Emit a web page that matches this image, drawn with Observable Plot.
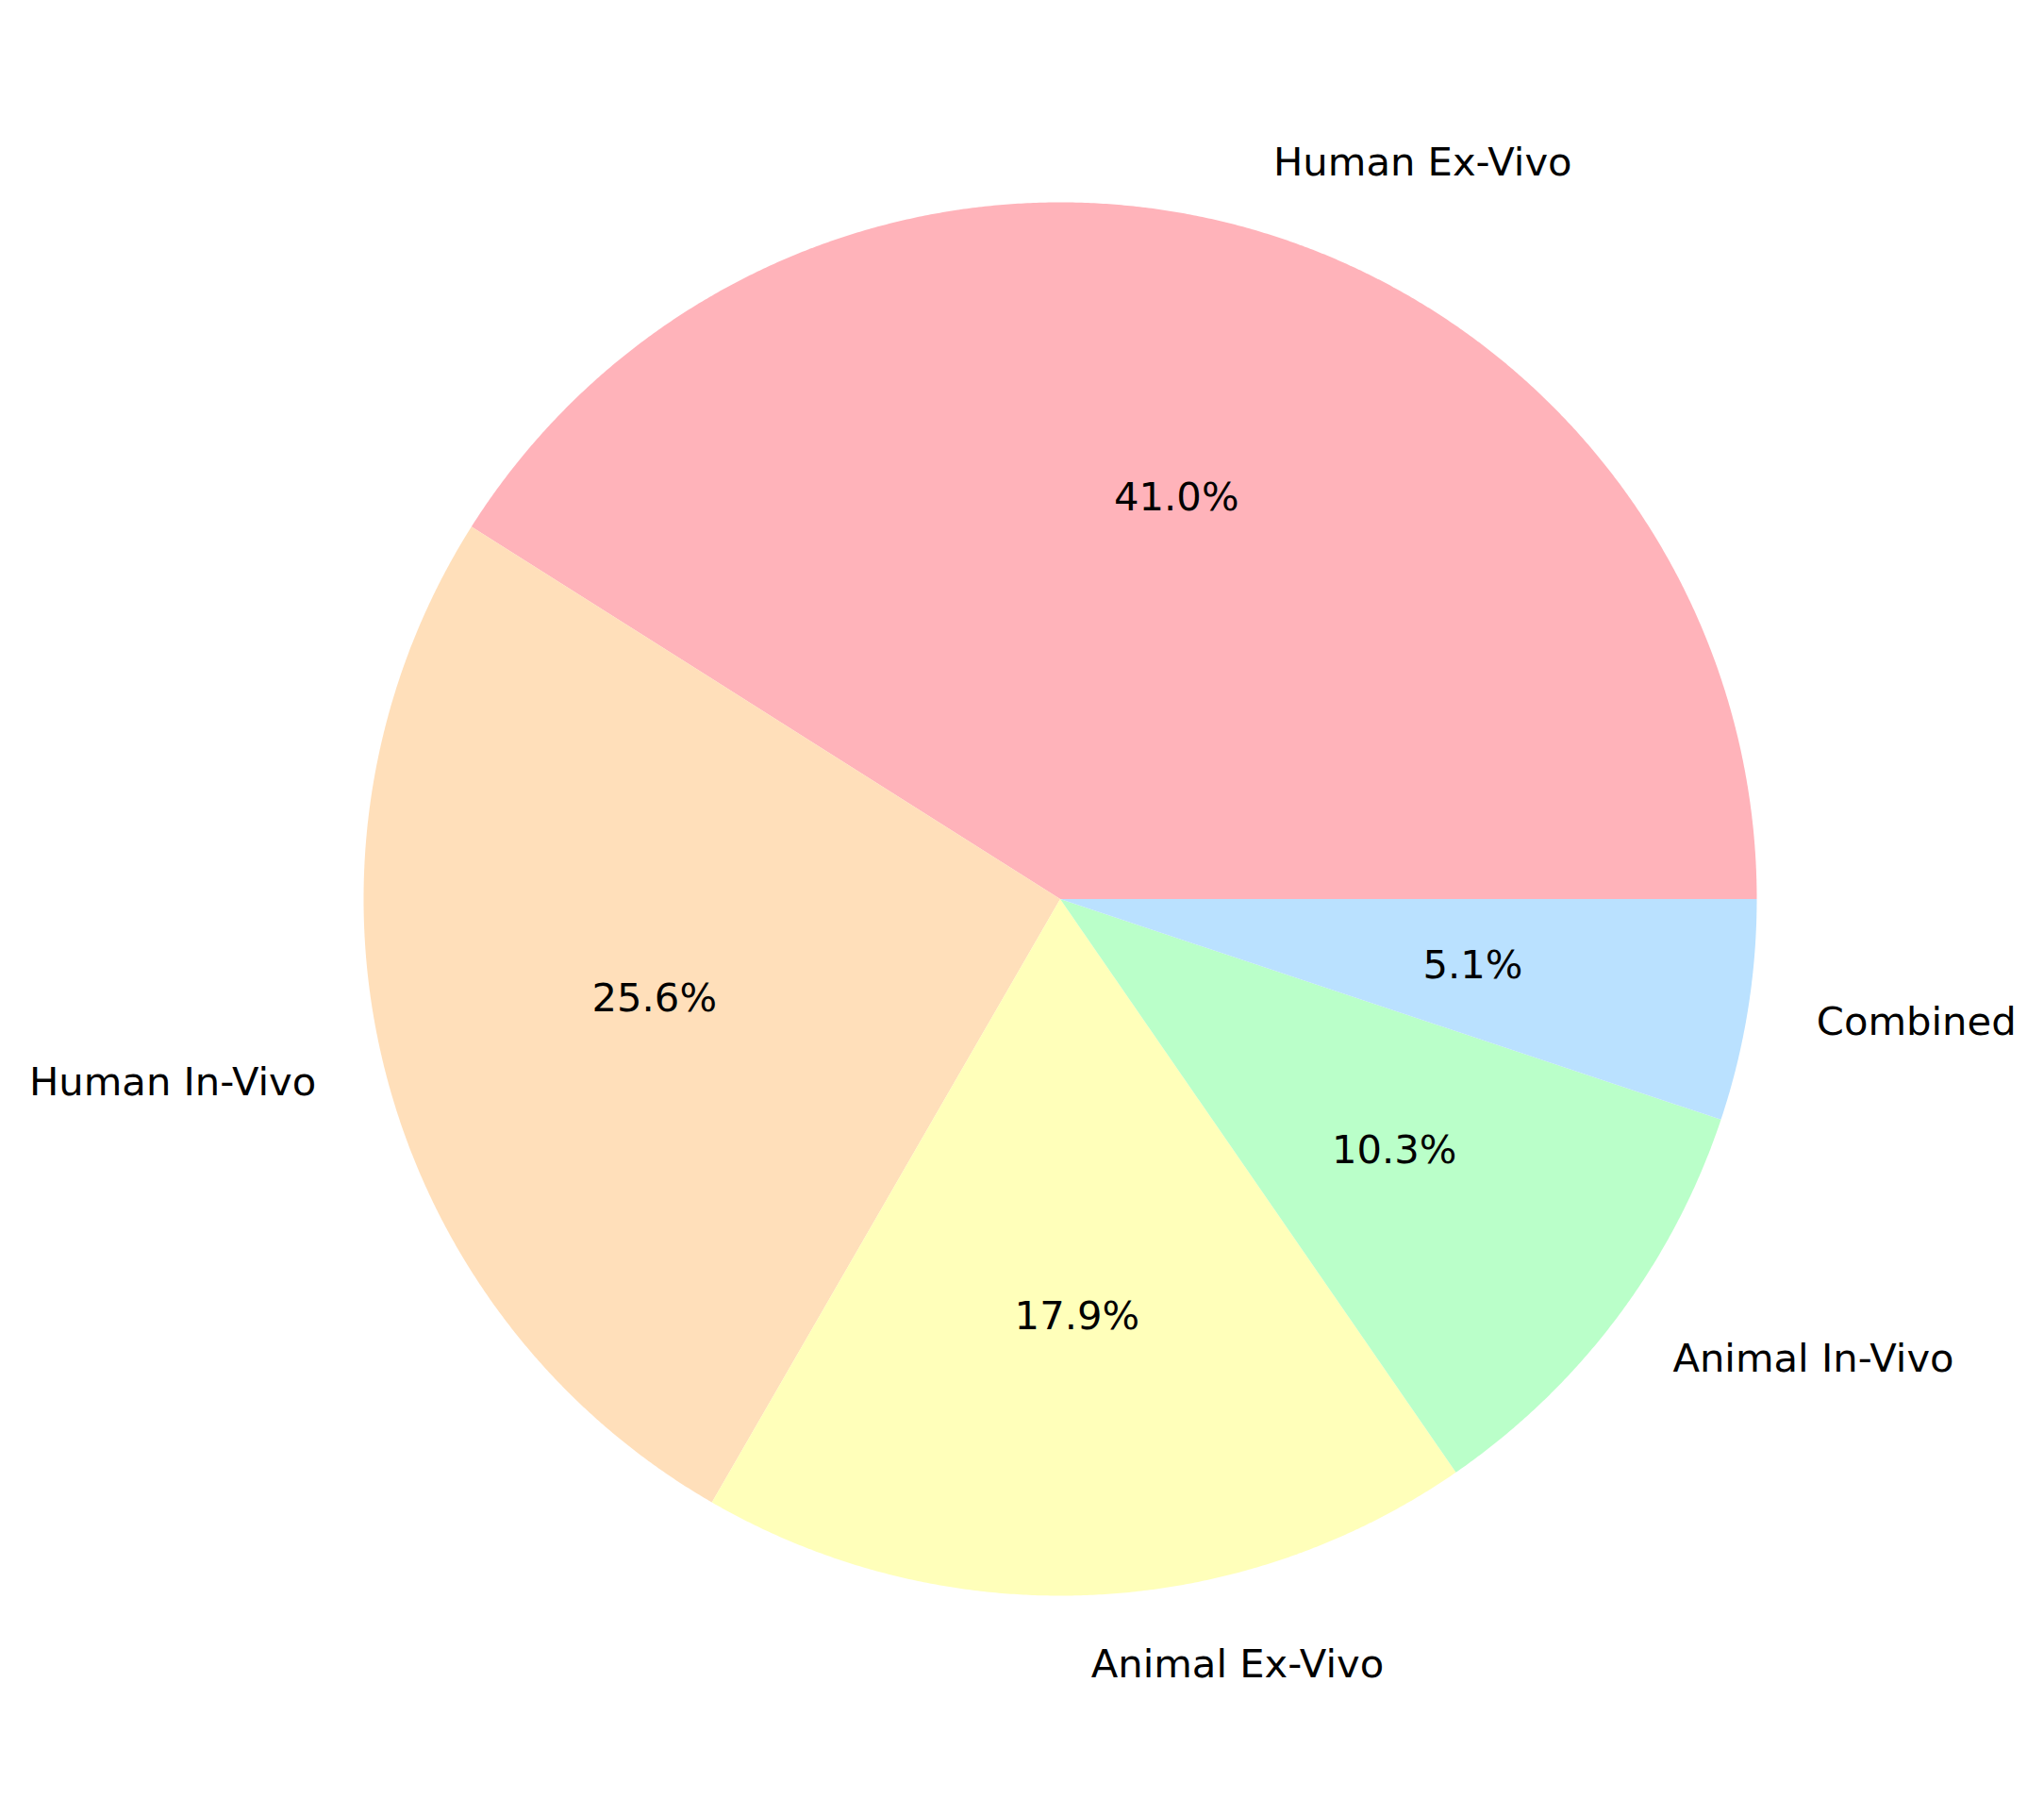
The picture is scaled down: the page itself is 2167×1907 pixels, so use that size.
<!DOCTYPE html>
<html>
<head>
<meta charset="utf-8">
<script src="https://cdn.jsdelivr.net/npm/d3@7"></script>
<script src="https://cdn.jsdelivr.net/npm/@observablehq/plot@0.6"></script>
<style>
  html, body { margin: 0; padding: 0; background: #fff; }
  svg { display: block; }
</style>
</head>
<body>
<div id="chart"></div>
<script>
const categories = ["Human Ex-Vivo", "Human In-Vivo", "Animal Ex-Vivo", "Animal In-Vivo", "Combined"];
const counts = [16, 10, 7, 4, 2];
const colors = ["#FFB3BA", "#FFDFBA", "#FFFFBA", "#BAFFC9", "#BAE1FF"];

const W = 2167, H = 1907;
const cx = 1123.5, cy = 952.5, R = 738.5;
const total = d3.sum(counts);

// Build slices (matplotlib style: start at 0°, counter-clockwise)
let acc = 0;
const slices = categories.map((c, i) => {
  const a0 = acc / total * 2 * Math.PI;
  acc += counts[i];
  const a1 = acc / total * 2 * Math.PI;
  return {category: c, color: colors[i], a0, a1, mid: (a0 + a1) / 2, pct: counts[i] / total * 100};
});

const polyPts = [];
for (const s of slices) {
  polyPts.push({category: s.category, x: 0, y: 0});
  const n = Math.max(2, Math.ceil((s.a1 - s.a0) / (Math.PI / 720)));
  for (let k = 0; k <= n; k++) {
    const a = s.a0 + (s.a1 - s.a0) * k / n;
    polyPts.push({category: s.category, x: Math.cos(a), y: Math.sin(a)});
  }
  polyPts.push({category: s.category, x: 0, y: 0});
}

const labels = slices.map(s => ({
  text: s.category,
  x: 1.1 * Math.cos(s.mid),
  y: 1.1 * Math.sin(s.mid)
}));
const pctLabels = slices.map(s => ({
  text: s.pct.toFixed(1) + "%",
  x: 0.6 * Math.cos(s.mid),
  y: 0.6 * Math.sin(s.mid)
}));

const font = "DejaVu Sans";
const fs = 41.7;

const chart = Plot.plot({
  width: W,
  height: H,
  margin: 0,
  style: {background: "#fff", fontFamily: font},
  x: {domain: [-cx / R, (W - cx) / R], range: [0, W], axis: null},
  y: {domain: [-(H - cy) / R, cy / R], range: [H, 0], axis: null},
  color: {domain: categories, range: colors},
  marks: [
    Plot.line(polyPts, {x: "x", y: "y", z: "category", fill: "category", stroke: "none", curve: "linear"}),
    Plot.text(labels.filter(d => d.x >= 0), {x: "x", y: "y", text: "text", textAnchor: "start", fontSize: fs, fill: "black", fontFamily: font}),
    Plot.text(labels.filter(d => d.x < 0), {x: "x", y: "y", text: "text", textAnchor: "end", fontSize: fs, fill: "black", fontFamily: font}),
    Plot.text(pctLabels, {x: "x", y: "y", text: "text", textAnchor: "middle", fontSize: fs, fill: "black", fontFamily: font})
  ]
});
document.getElementById("chart").appendChild(chart);
</script>
</body>
</html>
